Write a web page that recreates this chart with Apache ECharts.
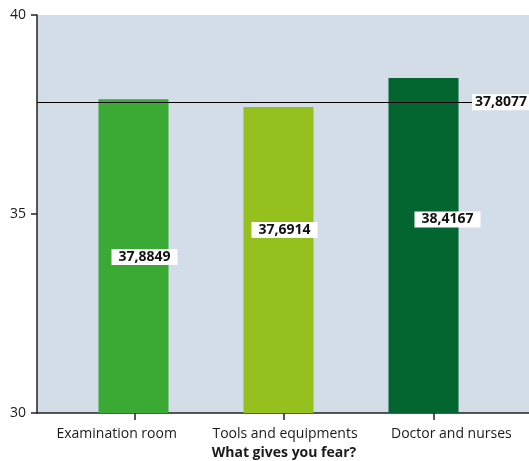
<!DOCTYPE html>
<html>
<head>
<meta charset="utf-8">
<script src="https://cdn.jsdelivr.net/npm/echarts@6/dist/echarts.min.js"></script>
<style>
  html, body { margin: 0; padding: 0; background: #ffffff; }
  #chart { width: 529px; height: 461px; }
</style>
</head>
<body>
<div id="chart"></div>
<script>
// Mean fear score by source of fear
const categories = ['Examination room', 'Tools and equipments', 'Doctor and nurses'];
const meanValues = [37.8849, 37.6914, 38.4167];
const overallMean = 37.8077;
const barColors = ['#3aaa35', '#95c11f', '#03652f'];
const yMin = 30, yMax = 40, yStep = 5;
const axisTitle = 'What gives you fear?';

// label nudges per bar (px) and x-label shifts
const labelOffsets = [[11, 1], [6, -30], [24, -26]];
const tickLabelShift = [-18, 1, 18];

const fmt = v => String(v).replace('.', ',');
const FONT = '"Open Sans", "Noto Sans", sans-serif';

const chart = echarts.init(document.getElementById('chart'), null, { renderer: 'canvas' });

const richStyles = {};
tickLabelShift.forEach((s, i) => {
  richStyles['c' + i] = {
    fontFamily: FONT, fontSize: 14, color: '#1a1a1a',
    padding: s >= 0 ? [0, 0, 0, 2 * s] : [0, -2 * s, 0, 0]
  };
});

const gridBase = { top: 15, bottom: 48, outerBoundsMode: 'none', containLabel: false };

chart.setOption({
  animation: false,
  grid: [
    Object.assign({ left: 37, right: 0, show: true, backgroundColor: '#d3dde8', borderWidth: 0 }, gridBase),
    Object.assign({ left: 60, right: 21 }, gridBase),
    Object.assign({ left: 61, right: 33 }, gridBase)
  ],
  xAxis: [
    { gridIndex: 0, type: 'category', data: categories,
      axisLine: { show: true, lineStyle: { color: '#222', width: 1.5 } },
      axisTick: { show: false }, axisLabel: { show: false }, splitLine: { show: false } },
    { gridIndex: 1, type: 'category', data: categories,
      axisLine: { show: true, onZero: false, lineStyle: { color: 'rgba(0,0,0,0)', width: 1 } },
      axisTick: { show: true, alignWithLabel: true, interval: 0, length: 7, lineStyle: { color: '#222', width: 1.5 } },
      axisLabel: {
        margin: 14, interval: 0, hideOverlap: false,
        formatter: (v, i) => '{c' + i + '|' + v + '}',
        rich: richStyles
      },
      name: axisTitle, nameLocation: 'middle', nameGap: 33,
      nameTextStyle: { fontFamily: FONT, fontSize: 14, fontWeight: 'bold', color: '#1a1a1a' } },
    { gridIndex: 2, type: 'category', data: categories, show: false }
  ],
  yAxis: [
    { gridIndex: 0, type: 'value', min: yMin, max: yMax, interval: yStep,
      axisLine: { show: true, lineStyle: { color: '#222', width: 1.5 } },
      axisTick: { show: true, length: 6, lineStyle: { color: '#222', width: 1.5 } },
      axisLabel: { margin: 11, fontFamily: FONT, fontSize: 14, color: '#1a1a1a' },
      splitLine: { show: false } },
    { gridIndex: 1, type: 'value', min: yMin, max: yMax, show: false },
    { gridIndex: 2, type: 'value', min: yMin, max: yMax, show: false }
  ],
  series: [
    {
      type: 'bar', xAxisIndex: 2, yAxisIndex: 2, barWidth: 70,
      data: meanValues.map((v, i) => ({
        value: v,
        itemStyle: { color: barColors[i] },
        label: { offset: labelOffsets[i] }
      })),
      label: {
        show: true, position: 'inside',
        formatter: p => fmt(p.value),
        fontFamily: FONT, fontSize: 14, fontWeight: 'bold', color: '#111',
        backgroundColor: '#ffffff', padding: [1, 7, 0, 7], lineHeight: 15
      }
    },
    {
      type: 'line', xAxisIndex: 0, yAxisIndex: 0, data: [],
      markLine: {
        silent: true, symbol: 'none',
        lineStyle: { color: '#000', width: 1.2, type: 'solid' },
        label: {
          show: true, position: 'insideEnd', distance: 0,
          formatter: () => fmt(overallMean),
          fontFamily: FONT, fontSize: 14, fontWeight: 'bold', color: '#111',
          backgroundColor: '#ffffff', padding: [1, 2, 0, 3], lineHeight: 15
        },
        data: [{ yAxis: overallMean }]
      }
    }
  ]
});
</script>
</body>
</html>
